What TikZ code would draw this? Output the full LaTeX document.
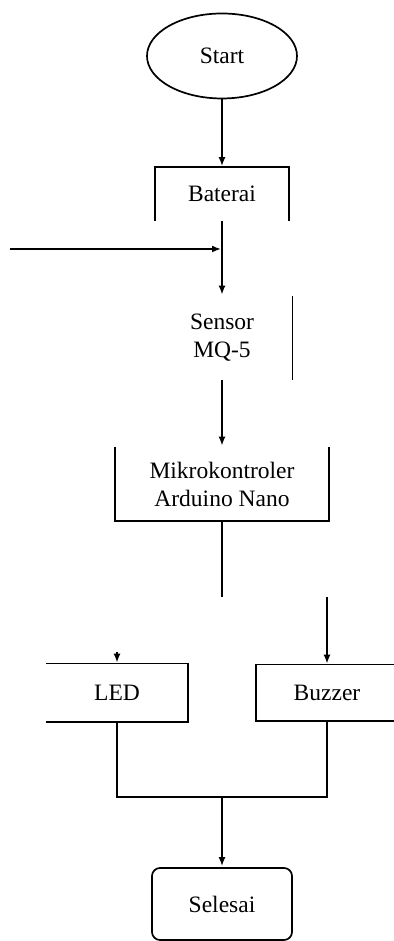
\documentclass[tikz,border=0pt]{standalone}
\usepackage{fontspec}
\setmainfont{Liberation Serif}
\usetikzlibrary{positioning,shapes.geometric,arrows.meta}

\begin{document}
\begin{tikzpicture}[x=1pt,y=1pt,line width=1.7pt,>={Latex[length=9pt,width=7pt]},node distance=140pt,on grid,
        every node/.style={font=\fontsize{23.5}{28}\selectfont,align=center,inner sep=0pt},
        blok/.style={rectangle,minimum width=140pt,minimum height=57pt}]
                \useasboundingbox (0,0) rectangle (393,941);
                \node[ellipse,draw,minimum width=150pt,minimum height=85pt] (start) at (222,885) {Start};
                \node[blok,minimum width=132pt,minimum height=52pt] (bat) [below=138pt of start] {Baterai};
                \node[blok,minimum width=139pt,minimum height=83pt] (sensor) [below=144pt of bat] {Sensor\\MQ-5};
                \node[blok,minimum width=212pt,minimum height=73pt] (mikro) [below=146pt of sensor] {Mikrokontroler\\Arduino Nano};
                \node[blok] (led) [below left=209pt and 105pt of mikro] {LED};
                \node[blok,minimum height=55pt] (buzzer) [right=210pt of led] {Buzzer};
                \node[blok,draw,rounded corners=8pt,minimum height=72pt] (selesai) [below right=211pt and 105pt of led] {Selesai};

                \coordinate (back) at (10,692);
                \coordinate[below=76pt of mikro.south] (split);
                \coordinate[above=12pt of led.north] (ledtop);
                \coordinate[below=75pt of led.south] (merge);

                % sisi kotak yang tampak
                \draw (bat.south west) -- (bat.north west) -- (bat.north east) -- (bat.south east);
                \draw (sensor.north east) -- (sensor.south east);
                \draw (mikro.north west) -- (mikro.south west) -- (mikro.south east) -- (mikro.north east);
                \draw (led.north west) -- (led.north east) -- (led.south east) -- (led.south west);
                \draw (buzzer.north east) -- (buzzer.north west) -- (buzzer.south west) -- (buzzer.south east);

                \path[->,shorten >=1pt]
                (start) edge (bat)
                (bat) edge (sensor)
                (back) edge (back -| bat.south)
                (sensor) edge (mikro)
                (buzzer.north |- split) edge (buzzer)
                (ledtop) edge (led)
                (selesai.north |- merge) edge (selesai)
                ;
                \draw (mikro.south) -- (split);
                \draw (led.south) -- (merge) -| (buzzer.south);
\end{tikzpicture}
\end{document}
